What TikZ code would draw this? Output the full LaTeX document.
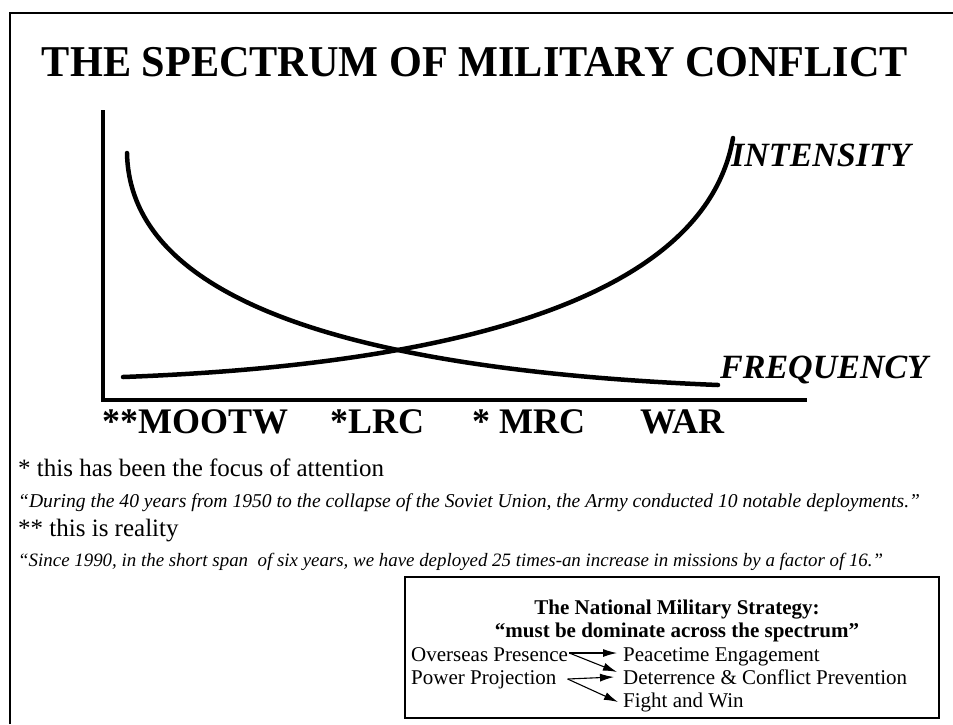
\documentclass[tikz,border=0pt]{standalone}
\usepackage{fontspec}
\setmainfont{Liberation Serif}
\usetikzlibrary{arrows.meta}
\tikzset{
  txt/.style={inner sep=0pt, anchor=base west},
  curve/.style={line width=4.5pt, line cap=round},
  axis/.style={line width=4.5pt, line cap=rect},
  arr/.style={line width=1.1pt, -{Latex[length=14pt,width=8pt]}},
}
\begin{document}
\begin{tikzpicture}[x=1pt,y=-1pt]
\useasboundingbox (0,0) rectangle (953,724);
\fill[white] (0,0) rectangle (953,724);
% frame
\draw[line width=1.8pt] (10,724) -- (10,13) -- (953,13);
% title
\node[inner sep=0pt, anchor=base] (title) at (475,76)
  {\fontsize{44}{50}\selectfont\bfseries\scalebox{0.96}[1]{THE SPECTRUM OF MILITARY CONFLICT}};
% axes
\coordinate (ytop) at (103,112);
\coordinate (origin) at (103,400);
\coordinate (xend) at (805,400);
\draw[axis] (ytop) -- (origin) -- (xend);
% curves
\coordinate (a0) at (127,153);
\coordinate (a1) at (718,385);
\coordinate (b0) at (123,377);
\coordinate (b1) at (733,138);
\draw[curve] (a0) .. controls (130,300) and (350,370) .. (a1);
\draw[curve] (b0) .. controls (450,365) and (705,300) .. (b1);
% curve labels
\node[txt] (intensity) at (731,166) {\fontsize{34}{38}\selectfont\bfseries\itshape INTENSITY};
\node[txt] (frequency) at (720,378) {\fontsize{34}{38}\selectfont\bfseries\itshape FREQUENCY};
% axis labels
\node[txt] (mootw) at (102,433) {\fontsize{36}{40}\selectfont\bfseries **MOOTW};
\node[txt] (lrc) at (330,433) {\fontsize{36}{40}\selectfont\bfseries *LRC};
\node[txt] (mrc) at (472,433) {\fontsize{36}{40}\selectfont\bfseries * MRC};
\node[txt] (war) at (640,433) {\fontsize{36}{40}\selectfont\bfseries WAR};
% notes
\node[txt] (n1) at (18,476) {\fontsize{25}{28}\selectfont * this has been the focus of attention};
\node[txt] (q1) at (18,507) {\fontsize{19.6}{22}\selectfont\itshape ``During the 40 years from 1950 to the collapse of the Soviet Union, the Army conducted 10 notable deployments.''};
\node[txt] (n2) at (18,536) {\fontsize{25}{28}\selectfont ** this is reality};
\node[txt] (q2) at (18,566) {\fontsize{18.9}{22}\selectfont\itshape ``Since 1990, in the short span\ \ of six years, we have deployed 25 times-an increase in missions by a factor of 16.''};
% box
\draw[line width=1.5pt] (405,577) rectangle (939,718);
\node[inner sep=0pt, anchor=base] (h1) at (677,614) {\fontsize{21}{24}\selectfont\bfseries The National Military Strategy:};
\node[inner sep=0pt, anchor=base] (h2) at (677,637) {\fontsize{21}{24}\selectfont\bfseries ``must be dominate across the spectrum''};
\node[txt] (op) at (411,661) {\fontsize{21}{24}\selectfont Overseas Presence};
\node[txt] (pp) at (411,684) {\fontsize{21}{24}\selectfont Power Projection};
\node[txt] (pe) at (623,661) {\fontsize{21}{24}\selectfont Peacetime Engagement};
\node[txt] (dc) at (623,684) {\fontsize{21}{24}\selectfont Deterrence \& Conflict Prevention};
\node[txt] (fw) at (623,707) {\fontsize{21}{24}\selectfont Fight and Win};
% arrows
\coordinate (opo) at ([xshift=1pt,yshift=8pt]op.base east);
\coordinate (ppo) at ([xshift=11pt,yshift=5pt]pp.base east);
\draw[arr] (opo) -- ([xshift=-6pt,yshift=8pt]pe.base west);
\draw[arr] (opo) -- ([xshift=-6pt,yshift=12pt]dc.base west);
\draw[arr] (ppo) -- ([xshift=-9pt,yshift=7pt]dc.base west);
\draw[arr] (ppo) -- ([xshift=-5pt,yshift=5pt]fw.base west);
\end{tikzpicture}
\end{document}
